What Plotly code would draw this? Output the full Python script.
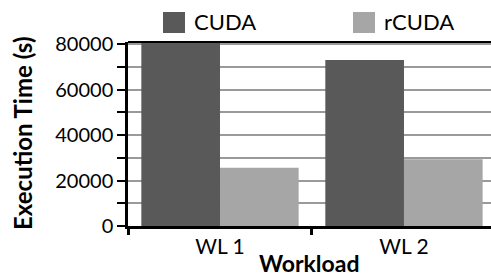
import plotly.graph_objects as go

categories = ["WL 1", "WL 2"]
series_names = ["CUDA", "rCUDA"]
cuda_values = [80500, 73000]
rcuda_values = [25600, 29300]
series_colors = ["#595959", "#a6a6a6"]
y_tick_vals = [0, 20000, 40000, 60000, 80000]
y_tick_text = ["0", "20000", "40000", "60000", "80000"]
x_title = "Workload"
y_title = "Execution Time (s)"

FONT = "Lato"
L, T, B, W, H = 128, 42, 51, 491, 277
PW = W - L
PH = H - T - B

fig = go.Figure()
for name, vals, col in zip(series_names, [cuda_values, rcuda_values], series_colors):
    fig.add_trace(go.Bar(name=name, x=categories, y=vals, marker=dict(color=col, line=dict(width=0)),
                         showlegend=False, hoverinfo="skip"))

fig.update_layout(
    width=W, height=H,
    margin=dict(l=L, r=0, t=T, b=B, autoexpand=False),
    paper_bgcolor="white", plot_bgcolor="white",
    barmode="group", bargap=0.145, bargroupgap=0,
    font=dict(family=FONT, size=20, color="black"),
)
fig.update_xaxes(
    type="category", range=[-0.5, 1.473], automargin=False,
    showline=True, linecolor="black", linewidth=2.5,
    ticks="outside", tickson="boundaries", ticklen=6, tickwidth=2.5, tickcolor="black",
    showgrid=False,
    tickfont=dict(family=FONT, size=21),
)
fig.update_yaxes(
    range=[0, 80880], automargin=False,
    tickvals=y_tick_vals, ticktext=y_tick_text,
    showline=True, linecolor="black", linewidth=2.5,
    ticks="outside", ticklen=8, tickwidth=2, tickcolor="black",
    showgrid=True, gridcolor="#9a9a9a", gridwidth=1.5,
    minor=dict(dtick=10000, ticks="outside", ticklen=8, tickwidth=2, tickcolor="black",
               showgrid=True, gridcolor="#9a9a9a", gridwidth=1.5),
    zeroline=False,
    tickfont=dict(family=FONT, size=20),
)
# top border of plot area
fig.add_shape(type="line", xref="paper", yref="paper", x0=0, x1=1, y0=1, y1=1,
              line=dict(color="black", width=2))

# axis titles
fig.add_annotation(xref="paper", yref="paper", x=0.5, y=(H - B - 263) / PH,
                   text="<b>" + x_title + "</b>", showarrow=False, xanchor="center", yanchor="middle",
                   font=dict(family=FONT, size=23, color="black"))
fig.add_annotation(xref="paper", yref="paper", x=(22 - L) / PW, y=(H - B - 134) / PH,
                   text="<b>" + y_title + "</b>", showarrow=False, textangle=-90,
                   xanchor="center", yanchor="middle",
                   font=dict(family=FONT, size=24, color="black"))

# custom legend
legend_x = [163, 353]
for name, col, lx in zip(series_names, series_colors, legend_x):
    x0 = (lx - L) / PW
    x1 = (lx + 22 - L) / PW
    fig.add_shape(type="rect", xref="paper", yref="paper", x0=x0, x1=x1,
                  y0=(H - B - 33) / PH, y1=(H - B - 12) / PH,
                  fillcolor=col, line=dict(width=0))
    fig.add_annotation(xref="paper", yref="paper", x=(lx + 29 - L) / PW, y=(H - B - 22) / PH,
                       text=name, showarrow=False, xanchor="left", yanchor="middle",
                       font=dict(family=FONT, size=22, color="black"))

fig.write_html("out.html", config={"displayModeBar": False},
               post_script="document.body.style.margin='0';document.body.style.overflow='hidden';")
